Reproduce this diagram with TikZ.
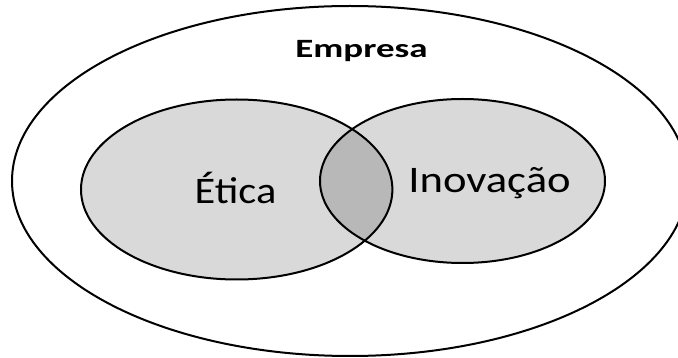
\documentclass[tikz,border=0pt]{standalone}
\usepackage{fontspec}
\setmainfont{Carlito}
\usetikzlibrary{shapes.geometric}
\definecolor{setfill}{RGB}{217,217,217}
\definecolor{overlapfill}{RGB}{184,184,184}
\tikzset{
  outline/.style={draw=black, line width=2pt},
  setlabel/.style={anchor=base, inner sep=0pt, font=\fontsize{37.5}{40}\selectfont},
  titlelabel/.style={anchor=base, inner sep=0pt, font=\bfseries\fontsize{26.4}{30}\selectfont}
}
\begin{document}
\begin{tikzpicture}[x=1pt,y=-1pt]
  \useasboundingbox (0,0) rectangle (678,358);
  % outer set: the company
  \coordinate (empresaC) at (350,181);
  \coordinate (eticaC) at (236.7,189.5);
  \coordinate (inovC) at (462.5,181);
  \draw[outline, fill=white] (empresaC) ellipse [x radius=338pt, y radius=175pt];
  % the two inner sets
  \fill[setfill] (eticaC) ellipse [x radius=155.7pt, y radius=90pt];
  \fill[setfill] (inovC) ellipse [x radius=142.5pt, y radius=82pt];
  % their overlap
  \begin{scope}
    \clip (eticaC) ellipse [x radius=155.7pt, y radius=90pt];
    \fill[overlapfill] (inovC) ellipse [x radius=142.5pt, y radius=82pt];
  \end{scope}
  \draw[outline] (eticaC) ellipse [x radius=155.7pt, y radius=90pt];
  \draw[outline] (inovC) ellipse [x radius=142.5pt, y radius=82pt];
  % labels
  \node[titlelabel] (empresa) at (361.5,58) {\scalebox{1.40}[1]{Empresa}};
  \node[setlabel] (etica) at (235.5,204) {\scalebox{1.13}[1]{Ética}};
  \node[setlabel] (inovacao) at (489.5,193) {\scalebox{1.19}[1]{Inovação}};
\end{tikzpicture}
\end{document}
